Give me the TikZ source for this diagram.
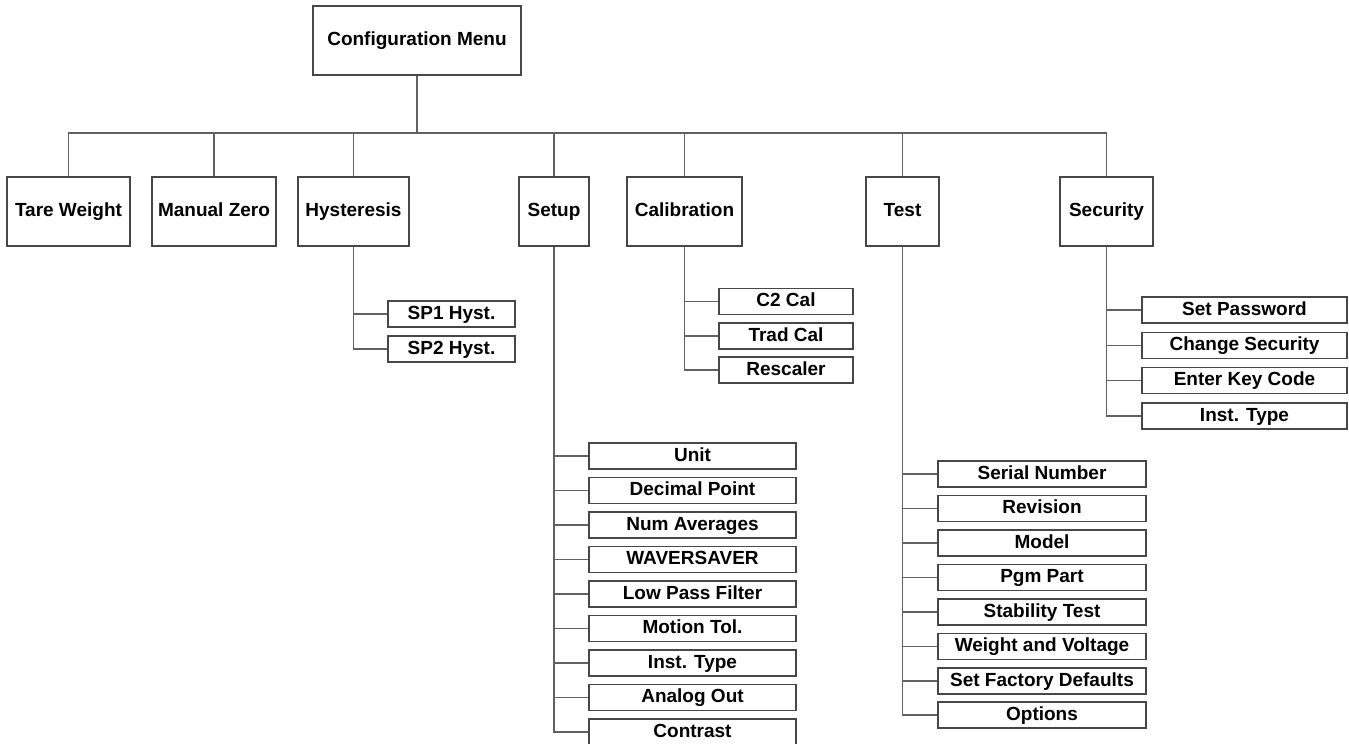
\documentclass[tikz,border=0pt]{standalone}
\usepackage{fontspec}
\setmainfont{Liberation Sans}
\begin{document}
\begin{tikzpicture}[x=1pt,y=-1pt,
  box/.style={draw=black!72,line width=1.2pt,fill=white,inner sep=0pt,anchor=center,
    text height=13.6pt,text depth=3.6pt,
    font=\bfseries\fontsize{19}{22}\selectfont,text=black},
  topbox/.style={box,minimum height=69pt},
  sub/.style={box,minimum height=26pt},
  conn/.style={draw=black!62,line width=1.2pt}]
\useasboundingbox (0,0) rectangle (1349,744);
\clip (0,0) rectangle (1349,744);
% level 0
\node[topbox,minimum width=208pt] (cfg) at (417,40.5) {Configuration Menu};
% level 1
\node[topbox,minimum width=123pt] (tare) at (68.5,211.5) {Tare Weight};
\node[topbox,minimum width=124pt] (zero) at (214,211.5) {Manual Zero};
\node[topbox,minimum width=111pt] (hyst) at (353.5,211.5) {Hysteresis};
\node[topbox,minimum width=70pt] (setup) at (554,211.5) {Setup};
\node[topbox,minimum width=115pt] (cal) at (684.5,211.5) {Calibration};
\node[topbox,minimum width=73pt] (test) at (902.5,211.5) {Test};
\node[topbox,minimum width=93pt] (sec) at (1106.5,211.5) {Security};
\coordinate (bus) at (0,133);
\draw[conn] (cfg.south) -- (cfg.south |- bus);
\draw[conn] (tare.north) -- (tare.north |- bus) -- (sec.north |- bus) -- (sec.north);
\foreach \n in {zero,hyst,setup,cal,test}
  \draw[conn] (\n.north) -- (\n.north |- bus);
% hysteresis children
\node[sub,minimum width=127pt] (sp1) at (451.5,314) {SP1 Hyst.};
\node[sub,minimum width=127pt] (sp2) at (451.5,349) {SP2 Hyst.};
\draw[conn] (hyst.south) |- (sp2.west);
\draw[conn] (hyst.south |- sp1.west) -- (sp1.west);
% calibration children
\node[sub,minimum width=134pt] (c2) at (786,301.5) {C2 Cal};
\node[sub,minimum width=134pt] (trad) at (786,336) {Trad Cal};
\node[sub,minimum width=134pt] (resc) at (786,370) {Rescaler};
\draw[conn] (cal.south) |- (resc.west);
\foreach \n in {c2,trad}
  \draw[conn] (cal.south |- \n.west) -- (\n.west);
% setup children
\foreach \n/\t/\y in {unit/Unit/456,dec/Decimal Point/490.5,num/Num Averages/525,
  wav/WAVERSAVER/559.5,lpf/Low Pass Filter/594,mot/Motion Tol./628.5,
  inst/Inst. Type/663,ana/Analog Out/697.5,con/Contrast/732}
  \node[sub,minimum width=207pt] (\n) at (692.5,\y) {\t};
\draw[conn] (setup.south) |- (con.west);
\foreach \n in {unit,dec,num,wav,lpf,mot,inst,ana}
  \draw[conn] (setup.south |- \n.west) -- (\n.west);
% test children
\foreach \n/\t/\y in {ser/Serial Number/474,rev/Revision/508.5,mod/Model/543,
  pgm/Pgm Part/577.5,stab/Stability Test/612,wv/Weight and Voltage/646.5,
  fac/Set Factory Defaults/681,opt/Options/715}
  \node[sub,minimum width=208pt] (\n) at (1042,\y) {\t};
\draw[conn] (test.south) |- (opt.west);
\foreach \n in {ser,rev,mod,pgm,stab,wv,fac}
  \draw[conn] (test.south |- \n.west) -- (\n.west);
% security children
\foreach \n/\t/\y in {pw/Set Password/310,chs/Change Security/345.3,
  key/Enter Key Code/380.7,sit/Inst. Type/416}
  \node[sub,minimum width=205pt] (\n) at (1244.5,\y) {\t};
\draw[conn] (sec.south) |- (sit.west);
\foreach \n in {pw,chs,key}
  \draw[conn] (sec.south |- \n.west) -- (\n.west);
\end{tikzpicture}
\end{document}
